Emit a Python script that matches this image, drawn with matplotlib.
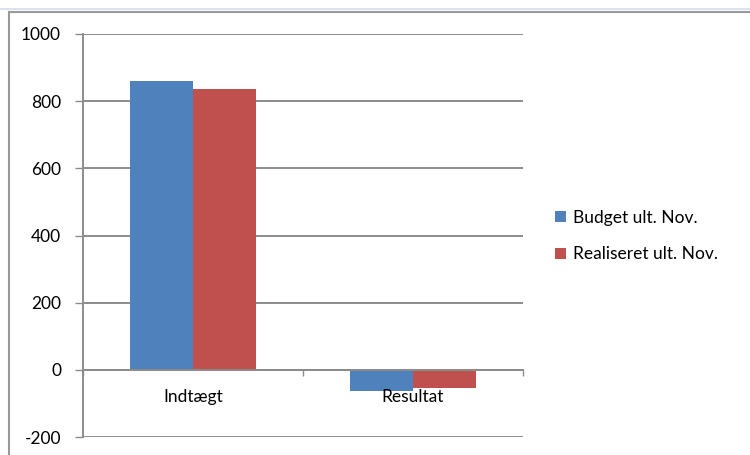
import matplotlib
matplotlib.use("Agg")
import matplotlib.pyplot as plt
from matplotlib.lines import Line2D
from matplotlib.patches import Patch
import numpy as np

categories = ["Indtægt", "Resultat"]
series_names = ["Budget ult. Nov.", "Realiseret ult. Nov."]
budget = [860, -62]
realiseret = [836, -54]
yticks = [-200, 0, 200, 400, 600, 800, 1000]

colors = ["#4F81BD", "#C0504D"]
grid_color = "#8c8c8c"
FS = 12.5

plt.rcParams["font.family"] = ["Lato", "DejaVu Sans"]
plt.rcParams["axes.unicode_minus"] = False

W, H = 750, 455
fig = plt.figure(figsize=(W / 100, H / 100), dpi=100)
fig.patch.set_facecolor("white")

# plot area in pixels
L, R, T, B = 83, 523, 34, 437
ax = fig.add_axes([L / W, 1 - B / H, (R - L) / W, (B - T) / H])

x = np.arange(len(categories))
bw = 0.287
ax.bar(x - bw / 2, budget, width=bw, color=colors[0], zorder=3)
ax.bar(x + bw / 2, realiseret, width=bw, color=colors[1], zorder=3)

ax.set_xlim(-0.5, len(categories) - 0.5)
ax.set_ylim(yticks[0], yticks[-1])
ax.set_yticks(yticks)
ax.set_yticklabels([str(v) for v in yticks])
ax.yaxis.grid(True, color=grid_color, linewidth=1.4, zorder=1)
ax.tick_params(axis="y", length=5.8, width=1.0, color=grid_color, pad=10,
               labelsize=FS, labelcolor="#000000")

# x axis at zero with boundary ticks
ax.spines["bottom"].set_position(("data", 0))
ax.spines["bottom"].set_color(grid_color)
ax.spines["bottom"].set_linewidth(1.4)
ax.spines["bottom"].set_zorder(4)
ax.set_xticks(np.arange(len(categories) + 1) - 0.5)
ax.set_xticklabels([])
ax.tick_params(axis="x", length=4.5, width=1.0, color=grid_color, direction="out")
for s in ["top", "right"]:
    ax.spines[s].set_visible(False)
ax.spines["left"].set_color(grid_color)
ax.spines["left"].set_linewidth(1.4)

for xi, cat in zip(x, categories):
    ax.annotate(cat, xy=(xi, 0), xytext=(0, -23), textcoords="offset points",
                ha="center", va="baseline", fontsize=FS, color="#000000")

handles = [Patch(facecolor=c, edgecolor="none") for c in colors]
fig.legend(handles, series_names, loc="center left",
           bbox_to_anchor=(555 / W, 1 - 236 / H), frameon=False,
           fontsize=FS, handlelength=0.63, handleheight=0.63,
           handletextpad=0.4, labelspacing=1.2, borderaxespad=0,
           borderpad=0)

# chart area border and spreadsheet line
fig.add_artist(Line2D([0, 1], [1 - 8.5 / H, 1 - 8.5 / H], transform=fig.transFigure,
                      color="#d5dcea", linewidth=1.2))
fig.add_artist(Line2D([8.5 / W, 1], [1 - 12 / H, 1 - 12 / H], transform=fig.transFigure,
                      color="#9a9a9a", linewidth=1.5))
fig.add_artist(Line2D([8.5 / W, 8.5 / W], [0, 1 - 12 / H], transform=fig.transFigure,
                      color="#9a9a9a", linewidth=1.5))

fig.savefig("out.png", dpi=100)
